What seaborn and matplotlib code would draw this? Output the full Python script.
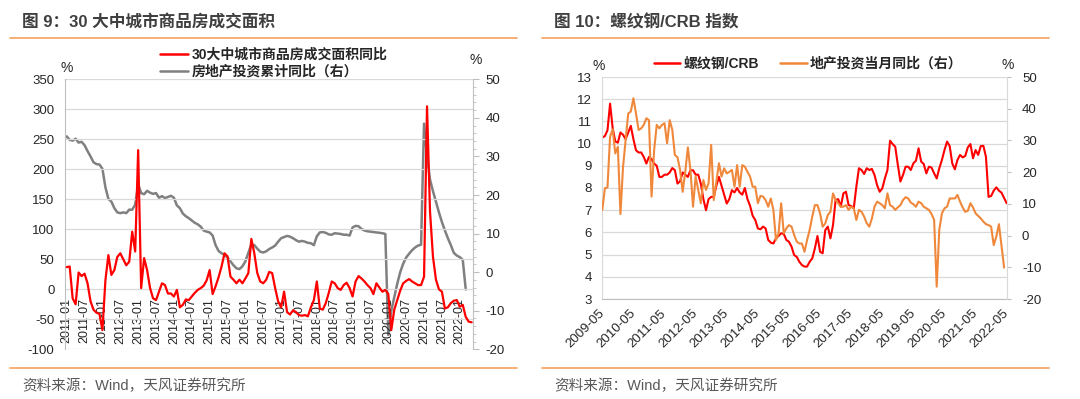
import numpy as np
import pandas as pd
import matplotlib
matplotlib.use("Agg")
import matplotlib.pyplot as plt
import seaborn as sns
from matplotlib.lines import Line2D
from matplotlib.ticker import MultipleLocator

sns.set_style("white")
plt.rcParams["font.family"] = ["Liberation Sans", "Noto Sans CJK SC", "DejaVu Sans"]
plt.rcParams["axes.unicode_minus"] = False

# ---------------- data: figure 9 (monthly, 2011-01 .. 2022-05) ----------------
left_months = pd.date_range("2011-01-01", periods=137, freq="MS")
left_tick_labels = [d.strftime("%Y-%m") for d in left_months[::6]]

area_yoy = [
    37, 38, -15, -25, 28, 22, 26, 10, -20, -34, -39, -41,
    -68, 15, 57, 24, 32, 54, 60, 50, 40, 46, 96, 63,
    232, 2, 52, 32, 2, -15, -18, -4, 10, 7, -7, -7,
    -12, -1, -30, -26, -17, -18, -12, -6, -1, 2, 6, 15,
    32, -8, 5, 20, 38, 60, 55, 21, 16, 10, 16, 10,
    18, 27, 84, 60, 27, 13, 10, 16, 29, 27, 2, -20,
    -30, -4, -38, -42, -35, -38, -43, -44, -43, -45, -30, -18,
    13, -32, -34, -23, -6, 13, 10, 2, -1, 7, 11, 2,
    -12, 13, 22, 18, 13, 7, 2, -8, 10, 3, -4, -1,
    -8, -68, -34, -18, -2, 10, 14, 17, 13, 10, 7, 7,
    21, 305, 130, 54, 16, 0, -4, -32, -30, -23, -19, -18,
    -29, -26, -46, -54, -55,
]

invest_cum = [
    35.2, 34.3, 34.1, 34.6, 33.6, 33.8, 32.9, 31.4, 30.0, 28.5, 28.0, 27.9,
    26.8, 22.0, 19.0, 18.3, 16.6, 15.5, 15.3, 15.5, 15.3, 16.2, 16.2, 17.5,
    22.8, 20.5, 20.2, 21.1, 20.6, 20.3, 20.5, 19.3, 19.7, 19.2, 19.5, 19.8,
    19.3, 17.3, 16.6, 15.2, 14.5, 14.0, 13.4, 12.8, 12.4, 11.8, 10.8, 10.5,
    10.3, 9.5, 7.0, 5.5, 4.9, 4.5, 3.8, 2.8, 1.8, 1.0, 0.8, 1.5,
    2.8, 5.0, 7.2, 7.0, 6.1, 5.3, 5.1, 5.4, 6.0, 6.4, 6.9, 7.9,
    8.8, 9.1, 9.4, 9.2, 8.8, 8.3, 7.9, 8.1, 7.9, 7.6, 7.5, 7.0,
    9.3, 10.3, 10.4, 10.2, 9.8, 9.7, 10.1, 10.0, 9.9, 9.7, 9.7, 9.5,
    11.6, 12.0, 11.9, 11.2, 10.8, 10.6, 10.5, 10.4, 10.3, 10.2, 10.1, 9.9,
    -16.3, -10.0, -6.5, -3.0, 0.0, 2.2, 3.8, 4.8, 5.7, 6.4, 6.9, 7.1,
    38.5, 30.0, 24.0, 21.0, 18.2, 15.5, 13.0, 10.8, 8.8, 7.0, 5.0, 4.3,
    3.9, 3.2, -4.5, np.nan, np.nan,
]

# ---------------- data: figure 10 (monthly, 2009-05 .. 2022-05) ----------------
right_months = pd.date_range("2009-05-01", periods=157, freq="MS")
right_tick_labels = [d.strftime("%Y-%m") for d in right_months[::12]]

rebar_crb = [
    10.27, 10.34, 10.6, 11.8, 10.7, 10.1, 10.04, 10.5, 10.4, 10.2, 10.5, 10.8,
    10.2, 9.7, 9.6, 9.6, 9.4, 9.1, 9.4, 9.3, 9.1, 9.0, 8.5, 8.5,
    8.6, 8.6, 8.7, 8.9, 8.8, 8.2, 8.3, 8.7, 8.6, 8.5, 8.8, 8.8,
    8.6, 8.6, 8.2, 7.5, 7.0, 7.5, 7.6, 7.6, 8.1, 8.5, 8.1, 7.7,
    7.3, 7.5, 7.9, 7.8, 8.0, 7.8, 7.7, 8.0, 7.5, 7.2, 6.75, 6.56,
    6.18, 6.14, 6.26, 6.18, 5.66, 5.54, 5.5, 5.73, 5.84, 5.96, 5.93, 5.66,
    5.58, 5.36, 4.98, 4.9, 4.68, 4.53, 4.46, 4.46, 4.68, 4.83, 5.28, 5.84,
    5.13, 5.06, 6.1, 6.26, 5.73, 6.33, 7.46, 7.5, 7.16, 7.76, 7.83, 7.23,
    7.19, 7.08, 8.06, 8.89, 8.81, 8.63, 8.89, 8.81, 8.86, 8.59, 8.13, 7.83,
    7.98, 8.43, 8.81, 10.13, 9.98, 9.86, 9.04, 8.29, 8.59, 8.96, 8.96, 8.81,
    9.11, 9.23, 9.79, 9.19, 9.08, 8.66, 8.96, 8.92, 8.66, 8.43, 8.89, 9.26,
    9.71, 10.09, 9.89, 9.11, 8.84, 9.26, 9.49, 9.38, 9.44, 9.83, 9.98, 9.34,
    9.71, 9.49, 9.89, 9.9, 9.4, 7.6, 7.64, 7.88, 8.03, 7.88, 7.79, 7.55,
    7.31,
]

invest_month = [
    8.1, 14.9, 15.2, 31.2, 33.5, 25.9, 28.0, 6.8, 21.7, 30.1, 38.5, 39.1,
    43.3, 38.5, 33.3, 33.8, 34.9, 37.0, 36.4, 12.3, 27.0, 34.9, 33.8, 34.9,
    35.4, 29.1, 36.4, 33.3, 25.4, 24.7, 20.7, 13.8, 20.1, 27.8, 20.7, 9.1,
    18.6, 14.4, 10.2, 17.5, 14.4, 16.5, 28.6, 11.2, 17.0, 22.8, 18.6, 21.2,
    19.6, 20.1, 20.7, 15.4, 22.2, 15.4, 22.2, 21.7, 20.1, 18.6, 15.4, 15.4,
    10.2, 12.5, 12.3, 11.2, 9.1, 11.7, 8.1, -1.4, 0.7, 10.2, 0.7, 2.3,
    3.3, 2.8, 0.2, -1.9, -2.5, -2.5, -5.1, -1.4, 1.8, 6.0, 9.6, 9.6,
    7.0, 2.8, 3.8, 6.5, 7.5, 13.3, 11.2, 10.2, 9.1, 9.1, 9.6, 8.1,
    9.1, 8.6, 4.9, 8.1, 7.5, 6.0, 3.9, 2.8, 5.4, 9.1, 10.7, 10.2,
    9.6, 8.6, 13.3, 9.6, 9.1, 8.1, 8.9, 9.6, 11.2, 12.1, 11.7, 10.4,
    9.9, 9.1, 10.7, 10.2, 9.1, 8.6, 8.1, 6.8, 5.0, -16.1, 1.8, 7.0,
    8.6, 9.1, 11.7, 11.7, 11.7, 12.8, 10.7, 8.9, 7.5, 7.8, 10.2, 8.9,
    7.0, 6.2, 5.4, 4.4, 3.6, 3.3, 2.8, -3.0, -0.3, 3.6, -3.2, -10.1,
    np.nan,
]

left_df = pd.DataFrame({"t": np.arange(len(left_months)), "area": area_yoy, "inv": invest_cum})
right_df = pd.DataFrame({"t": np.arange(len(right_months)), "crb": rebar_crb, "inv": invest_month})

# ---------------- styling ----------------
RED = "#FF0000"
GRAY = "#808080"
ORANGE = "#F0883C"
RULE = "#F5A25E"
TXT = "#262626"
AX = "#BFBFBF"
GRID = "#D9D9D9"

W, H = 1080, 399
fig = plt.figure(figsize=(W / 100, H / 100), dpi=100)


def fx(px):
    return px / W


def fy(py):
    return 1 - py / H


# ============ figure 9 ============
ax1 = fig.add_axes([fx(65), fy(349.3), fx(473.3 - 65), (349.3 - 79.3) / H])
ax2 = ax1.twinx()
sns.lineplot(data=left_df, x="t", y="inv", ax=ax2, color=GRAY, lw=1.8, estimator=None)
sns.lineplot(data=left_df, x="t", y="area", ax=ax1, color=RED, lw=1.6, estimator=None, zorder=3)
ax1.set_zorder(ax2.get_zorder() + 1)
ax1.patch.set_visible(False)

ax1.set_xlim(-0.57, 136.54)
ax1.set_ylim(-100, 350)
ax1.set_yticks(range(-100, 351, 50))
ax2.set_ylim(-20, 50)
ax2.set_yticks(range(-20, 51, 10))
ax2.yaxis.set_minor_locator(MultipleLocator(2))
ax1.set_xlabel("")
ax1.set_ylabel("")
ax2.set_ylabel("")
ax1.grid(axis="y", color=GRID, lw=0.9)
ax1.grid(axis="x", visible=False)
ax1.set_axisbelow(True)

# x axis crosses at 0 (set before labels: set_position resets the ticks)
ax1.spines["bottom"].set_position(("data", 0))
ax1.spines["bottom"].set_visible(False)
ax1.set_xticks(left_df["t"].values[::6])
ax1.set_xticklabels(left_tick_labels, fontsize=9, color=TXT)
ax1.tick_params(axis="x", length=0, pad=6.5, labelrotation=90)
ax1.tick_params(axis="y", length=0, pad=7.5, labelsize=9.5, labelcolor=TXT)
for s in ["top", "right"]:
    ax1.spines[s].set_visible(False)
ax1.spines["left"].set_color(AX)
for s in ["top", "left", "bottom"]:
    ax2.spines[s].set_visible(False)
ax2.spines["right"].set_color(AX)
ax2.tick_params(axis="y", which="major", length=4, color=AX, pad=5, labelsize=9.5, labelcolor=TXT)
ax2.tick_params(axis="y", which="minor", length=2, color=AX)

leg_font = dict(weight="bold", size=10)
h1 = [Line2D([0], [0], color=RED, lw=1.8), Line2D([0], [0], color=GRAY, lw=1.8)]
fig.legend(h1, ["30大中城市商品房成交面积同比", "房地产投资累计同比（右）"],
           loc="upper left", bbox_to_anchor=(fx(160), fy(48)), frameon=False, prop=leg_font,
           handlelength=2.0, handletextpad=0.25, labelspacing=0.2, borderpad=0, borderaxespad=0)

fig.text(fx(67), fy(68), "%", ha="center", va="center", fontsize=10, color=TXT)
fig.text(fx(476), fy(60), "%", ha="center", va="center", fontsize=10, color=TXT)

# ============ figure 10 ============
ax3 = fig.add_axes([fx(602.3), fy(299), fx(1006.7 - 602.3), (299 - 77) / H])
ax4 = ax3.twinx()
sns.lineplot(data=right_df, x="t", y="crb", ax=ax3, color=RED, lw=1.5, estimator=None)
sns.lineplot(data=right_df, x="t", y="inv", ax=ax4, color=ORANGE, lw=1.5, estimator=None)

ax3.set_xlim(0, 156)
ax3.set_ylim(3, 13)
ax3.set_yticks(range(3, 14))
ax4.set_ylim(-20, 50)
ax4.set_yticks(range(-20, 51, 10))
ax3.set_xlabel("")
ax3.set_ylabel("")
ax4.set_ylabel("")
ax3.grid(axis="y", color=GRID, lw=0.9)
ax3.grid(axis="x", visible=False)
ax3.set_xticks(right_df["t"].values[::12])
ax3.set_xticklabels(right_tick_labels, rotation=45, ha="right", va="center",
                    rotation_mode="anchor", fontsize=9.5, color=TXT)
ax3.tick_params(axis="x", length=4, color=AX, pad=5)
ax3.tick_params(axis="y", length=0, pad=7.5, labelsize=9.5, labelcolor=TXT)
for s in ["top", "right"]:
    ax3.spines[s].set_visible(False)
ax3.spines["left"].set_color(GRID)
ax3.spines["bottom"].set_color(AX)
for s in ["top", "left", "bottom"]:
    ax4.spines[s].set_visible(False)
ax4.spines["right"].set_color(GRID)
ax4.tick_params(axis="y", length=3, color=AX, pad=8, labelsize=9.5, labelcolor=TXT)

h2 = [Line2D([0], [0], color=RED, lw=1.8), Line2D([0], [0], color=ORANGE, lw=1.8)]
fig.legend(h2, ["螺纹钢/CRB", "地产投资当月同比（右）"], ncol=2,
           loc="upper left", bbox_to_anchor=(fx(654), fy(57)), frameon=False, prop=leg_font,
           handlelength=1.9, handletextpad=0.25, columnspacing=1.5, borderpad=0, borderaxespad=0)

fig.text(fx(599), fy(66), "%", ha="center", va="center", fontsize=10, color=TXT)
fig.text(fx(1008), fy(65), "%", ha="center", va="center", fontsize=10, color=TXT)

# ============ titles, rules, sources ============
title_kw = dict(fontsize=12, fontweight="bold", color="#3F3F3F", va="center")
fig.text(fx(22), fy(22), "图 9：30 大中城市商品房成交面积", **title_kw)
fig.text(fx(554), fy(22), "图 10：螺纹钢/CRB 指数", **title_kw)
for x0, x1 in [(10, 517), (542, 1049)]:
    for yy in (38, 368):
        fig.add_artist(Line2D([fx(x0), fx(x1)], [fy(yy), fy(yy)], color=RULE, lw=1.2))
src_kw = dict(fontsize=10.5, color="#595959", va="center")
fig.text(fx(22), fy(386), "资料来源：Wind，天风证券研究所", **src_kw)
fig.text(fx(554), fy(386), "资料来源：Wind，天风证券研究所", **src_kw)

fig.savefig("out.png", dpi=100)
